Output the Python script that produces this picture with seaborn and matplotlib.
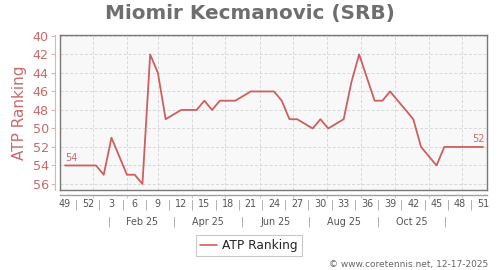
import datetime as dt
import numpy as np
import pandas as pd
import matplotlib
matplotlib.use("Agg")
import matplotlib.pyplot as plt
from matplotlib.lines import Line2D
import seaborn as sns

# ---------------- data ----------------
player = "Miomir Kecmanovic (SRB)"
series_name = "ATP Ranking"
week_numbers = [49, 50, 51, 52] + list(range(1, 52))
ranks = [54, 54, 54, 54, 54, 55, 51, 53, 55, 55,
         56, 42, 44, 49, np.nan, 48, 48, 48, 47, 48,
         47, 47, 47, np.nan, 46, 46, 46, 46, 47, 49,
         49, np.nan, 50, 49, 50, np.nan, 49, 45, 42, np.nan,
         47, 47, 46, 47, 48, 49, 52, 53, 54, 52,
         52, 52, 52, 52, 52]
month_labels = ["Feb 25", "Apr 25", "Jun 25", "Aug 25", "Oct 25"]
y_ticks = list(range(40, 57, 2))
first_point_date = dt.date(2024, 12, 7)
footer = "\u00a9 www.coretennis.net, 12-17-2025"

RED = "#cd5f5f"
RED_TXT = "#c86a6a"
RED_LIGHT = "#e6b0b0"


def date_to_x(d):
    return (d - first_point_date).days / 7.0


sns.set_style("white")
plt.rcParams["font.family"] = ["DejaVu Sans"]

fig = plt.figure(figsize=(5, 2.7), dpi=100)
ax = fig.add_axes([60 / 500, 1 - 190 / 270, 427 / 500, 155 / 270])

df = pd.DataFrame({"idx": range(len(week_numbers)),
                   "week": week_numbers,
                   "rank": ranks}).dropna()
sns.lineplot(data=df, x="idx", y="rank", color=RED, linewidth=1.3,
             estimator=None, ax=ax, legend=False)

ax.set_xlim(-0.65, 54.52)
ax.set_ylim(56.65, 39.9)
ax.set_facecolor("#f8f8f8")
for s in ax.spines.values():
    s.set_color("#787878")
    s.set_linewidth(1.0)

month_starts = [dt.date(2025, m, 1) for m in range(1, 13)]
ax.set_yticks(y_ticks)
ax.set_xticks([date_to_x(d) for d in month_starts])
ax.grid(True, color="#d8d8d8", linestyle=(0, (3, 2)), linewidth=0.7)
ax.tick_params(left=False, bottom=False, labelleft=False, labelbottom=False)
ax.set_xlabel("")
ax.set_ylabel("")

# annotations of first / last values
first = df.iloc[0]
last = df.iloc[-1]
ax.annotate(f"{int(first['rank'])}", (first["idx"], first["rank"]),
            xytext=(0, 3.5), textcoords="offset points", ha="left",
            va="baseline", fontsize=7, color=RED_TXT)
ax.annotate(f"{int(last['rank'])}", (last["idx"], last["rank"]),
            xytext=(1, 3.5), textcoords="offset points", ha="right",
            va="baseline", fontsize=7, color=RED_TXT)

# y axis (offset)
sy = ax.secondary_yaxis(-5 / 427)
sy.set_yticks(y_ticks)
sy.spines["left"].set_color(RED_LIGHT)
sy.spines["left"].set_linewidth(0.8)
sy.tick_params(color=RED_LIGHT, labelcolor=RED_TXT, length=3, width=0.8,
               labelsize=9.2, pad=1.5)
sy.set_ylabel(series_name, color=RED_TXT, fontsize=11, labelpad=4)

# x axis (offset) with week numbers
sx = ax.secondary_xaxis(-5 / 155)
pos, labs = [], []
n = len(week_numbers)
for i in range(0, n, 3):
    pos.append(i)
    labs.append(str(week_numbers[i]))
    if i + 1.5 <= n - 1:
        pos.append(i + 1.5)
        labs.append("|")
sx.set_xticks(pos, labs)
sx.tick_params(length=0, labelsize=6.9, labelcolor="#555555", pad=3)
for t in sx.get_xticklabels():
    if t.get_text() == "|":
        t.set_color("#999999")
sx.set_xticks([date_to_x(d) for d in month_starts], minor=True)
sx.tick_params(which="minor", length=2.5, color="#cccccc", width=0.8)
sx.spines["bottom"].set_color("#a0a0a0")
sx.spines["bottom"].set_linewidth(1.0)

# month row
seps = [dt.date(2025, m, 16) for m in (1, 3, 5, 7, 9, 11)]
trans = ax.get_xaxis_transform()
for d in seps:
    ax.text(date_to_x(d), -0.205, "|", transform=trans, ha="center",
            va="center", fontsize=7, color="#999999")
for k, lab in enumerate(month_labels):
    xm = (date_to_x(seps[k]) + date_to_x(seps[k + 1])) / 2
    ax.text(xm, -0.205, lab, transform=trans, ha="center", va="center",
            fontsize=6.9, color="#555555")

# title
fig.text(0.5, 1 - 13 / 270, player, ha="center", va="center",
         fontsize=14.4, fontweight="bold", color="#6e6e6e")

# legend
handle = Line2D([], [], color=RED, linewidth=1.2)
leg = fig.legend([handle], [series_name], loc="center",
                 bbox_to_anchor=(249 / 500, 1 - 245.5 / 270), fontsize=8.8,
                 frameon=True, fancybox=False, edgecolor="#bbbbbb",
                 handlelength=1.4, handletextpad=0.4, borderpad=0.35)
leg.get_frame().set_linewidth(0.8)

# footer
fig.text(488 / 500, 1 - 264 / 270, footer, ha="right", va="center",
         fontsize=6.5, color="#666666")

fig.savefig("out.png", dpi=100)
